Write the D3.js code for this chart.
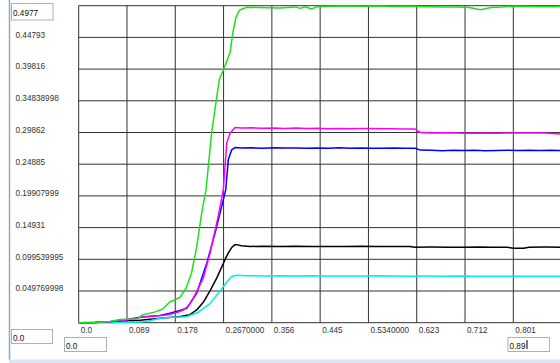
<!DOCTYPE html>
<html>
<head>
<meta charset="utf-8">
<script src="https://cdn.jsdelivr.net/npm/d3@7"></script>
<style>
    body { margin: 0; background: #fff; }
    svg { display: block; font-family: 'Liberation Sans', Arial, sans-serif; }
</style>
</head>
<body>
<svg id="graph" width="560" height="363"></svg>
<script>
// tick values and labels as the chart printed them
const xTicks = [0, 0.089, 0.178, 0.267, 0.356, 0.445, 0.534, 0.623, 0.712, 0.801];
const xTickLabels = ['0.0', '0.089', '0.178', '0.2670000', '0.356', '0.445', '0.5340000', '0.623', '0.712', '0.801'];
const yTicks = [0.04977, 0.09954, 0.14931, 0.19908, 0.24885, 0.29862, 0.34839, 0.39816, 0.44793];
const yTickLabels = ['0.049769998', '0.099539995', '0.14931', '0.19907999', '0.24885', '0.29862', '0.34838998', '0.39816', '0.44793'];
const xMin = 0, xMax = 0.89, yMin = 0, yMax = 0.4977;

// series, [x, y] pairs
const greenData = [[0,0],[0.03,0.0005],[0.058,0.002],[0.076,0.005],[0.109,0.006],[0.117,0.012],[0.141,0.017],[0.155,0.0215],
    [0.168,0.0325],[0.187,0.040],[0.198,0.0545],[0.208,0.078],[0.2175,0.119],[0.2267,0.172],[0.2346,0.2085],[0.245,0.298],
    [0.251,0.334],[0.259,0.381],[0.268,0.400],[0.279,0.424],[0.284,0.455],[0.290,0.480],[0.297,0.491],[0.310,0.4953],
    [0.33,0.4950],[0.35,0.4945],[0.37,0.4940],[0.385,0.4950],[0.40,0.4958],[0.408,0.4935],[0.418,0.4960],[0.429,0.4925],
    [0.44,0.4962],[0.46,0.4970],[0.49,0.4972],[0.52,0.4968],[0.55,0.4972],[0.58,0.4965],[0.61,0.4970],[0.64,0.4962],
    [0.67,0.4958],[0.70,0.4955],[0.72,0.4948],[0.74,0.4915],[0.76,0.4950],[0.78,0.4958],[0.80,0.4970],[0.83,0.4965],
    [0.86,0.4962],[0.89,0.4963]];
const magentaData = [[0,0],[0.03,0.0006],[0.058,0.002],[0.09,0.0045],[0.116,0.0085],[0.14,0.0105],[0.162,0.012],[0.180,0.0155],
    [0.193,0.020],[0.203,0.027],[0.211,0.038],[0.2296,0.070],[0.242,0.109],[0.257,0.1666],[0.2665,0.2085],[0.2728,0.282],
    [0.279,0.2976],[0.288,0.3065],[0.30,0.3055],[0.32,0.3060],[0.34,0.3052],[0.36,0.3055],[0.38,0.3048],[0.40,0.3055],
    [0.42,0.3050],[0.44,0.3054],[0.46,0.3046],[0.48,0.3050],[0.50,0.3044],[0.52,0.3048],[0.54,0.3050],[0.56,0.3044],
    [0.58,0.3046],[0.60,0.3041],[0.62,0.3040],[0.63,0.2985],[0.65,0.2978],[0.68,0.2982],[0.71,0.2976],[0.74,0.2980],
    [0.77,0.2975],[0.80,0.2980],[0.83,0.2978],[0.86,0.2980],[0.88,0.2968],[0.89,0.2962]];
const blueData = [[0,0],[0.03,0.0005],[0.058,0.0016],[0.09,0.005],[0.116,0.009],[0.150,0.0113],[0.168,0.0148],[0.185,0.019],
    [0.199,0.0226],[0.2175,0.0462],[0.236,0.0933],[0.2512,0.1405],[0.2665,0.1928],[0.271,0.2085],[0.2757,0.2557],
    [0.282,0.2714],[0.288,0.275],[0.30,0.2742],[0.32,0.2745],[0.34,0.2740],[0.36,0.2746],[0.38,0.2741],[0.40,0.2744],
    [0.42,0.2738],[0.44,0.2743],[0.46,0.2740],[0.48,0.2745],[0.50,0.2737],[0.52,0.2742],[0.54,0.2738],[0.56,0.2740],
    [0.58,0.2744],[0.60,0.2740],[0.62,0.2738],[0.63,0.2710],[0.65,0.2708],[0.67,0.2700],[0.69,0.2706],[0.71,0.2702],
    [0.73,0.2708],[0.75,0.2700],[0.77,0.2705],[0.79,0.2708],[0.81,0.2703],[0.83,0.2706],[0.85,0.2704],[0.87,0.2707],
    [0.89,0.2705]];
const blackData = [[0,0],[0.03,0.0005],[0.058,0.0016],[0.09,0.003],[0.113,0.004],[0.156,0.0074],[0.1775,0.009],[0.190,0.0100],
    [0.205,0.0125],[0.2175,0.020],[0.2296,0.0320],[0.242,0.0500],[0.2543,0.0700],[0.2640,0.0880],[0.2696,0.0990],
    [0.2760,0.1100],[0.2820,0.1180],[0.288,0.1225],[0.293,0.1222],[0.300,0.1208],[0.316,0.1197],[0.34,0.1200],[0.37,0.1198],
    [0.40,0.1201],[0.43,0.1196],[0.46,0.1198],[0.49,0.1195],[0.52,0.1199],[0.55,0.1196],[0.58,0.1198],[0.61,0.1197],
    [0.62,0.1185],[0.65,0.1187],[0.68,0.1184],[0.71,0.1186],[0.74,0.1190],[0.76,0.1186],[0.79,0.1185],[0.80,0.1168],
    [0.82,0.1168],[0.83,0.1186],[0.86,0.1187],[0.89,0.1186]];
const cyanData = [[0,0],[0.03,0.0002],[0.058,0.0003],[0.09,0.0008],[0.1185,0.0016],[0.135,0.004],[0.150,0.0069],[0.17,0.0085],
    [0.199,0.0094],[0.2205,0.0165],[0.242,0.030],[0.258,0.047],[0.2696,0.060],[0.2757,0.067],[0.282,0.0725],[0.291,0.0745],
    [0.31,0.0738],[0.34,0.0735],[0.37,0.0737],[0.40,0.0733],[0.43,0.0736],[0.46,0.0732],[0.49,0.0735],[0.52,0.0733],
    [0.55,0.0737],[0.58,0.0734],[0.61,0.0731],[0.64,0.0732],[0.67,0.0730],[0.70,0.0733],[0.73,0.0730],[0.76,0.0731],
    [0.79,0.0729],[0.82,0.0731],[0.85,0.0729],[0.89,0.0730]];

const series = [
    { name: 'black', color: '#000000', values: blackData },
    { name: 'cyan', color: '#00eeee', values: cyanData },
    { name: 'blue', color: '#0000ff', values: blueData },
    { name: 'magenta', color: '#ff00ff', values: magentaData },
    { name: 'green', color: '#1ee01e', values: greenData }
];

(function () {
    let svg = d3.select('#graph'),
        left = 78.7, right = 561.6, top = 5.7, bottom = 322.7;

    let x = d3.scaleLinear().domain([xMin, xMax]).range([left, right]),
        y = d3.scaleLinear().domain([yMin, yMax]).range([bottom, top]);

    svg.append('rect').attr('width', 560).attr('height', 363).attr('fill', '#fff');

    // panel borders
    svg.append('line').attr('x1', 9.5).attr('x2', 9.5).attr('y1', 0).attr('y2', 360)
        .attr('stroke', '#93a7c4').attr('stroke-width', 1.5);
    svg.append('rect').attr('x', 9).attr('y', 359.5).attr('width', 551).attr('height', 3.5).attr('fill', '#dbe6f2');

    // grid
    let grid = svg.append('g').attr('stroke', '#333').attr('stroke-width', 1);
    grid.selectAll('.vline').data(xTicks).enter().append('line')
        .attr('class', 'vline')
        .attr('x1', d => x(d)).attr('x2', d => x(d))
        .attr('y1', y(yMax)).attr('y2', y(yMin));
    grid.selectAll('.hline').data([yMin].concat(yTicks, [yMax])).enter().append('line')
        .attr('class', 'hline')
        .attr('x1', x(xMin)).attr('x2', 560)
        .attr('y1', d => y(d)).attr('y2', d => y(d));

    // lines
    let line = d3.line()
        .x(d => x(d[0]))
        .y(d => y(d[1]));

    svg.selectAll('.series')
        .data(series)
        .enter().append('path')
        .attr('class', 'series')
        .attr('d', d => line(d.values))
        .style('fill', 'none')
        .style('stroke', d => d.color)
        .style('stroke-width', '1.5px')
        .style('stroke-linejoin', 'round');

    // tick labels
    svg.selectAll('.xlabel').data(xTicks).enter().append('text')
        .attr('class', 'xlabel')
        .attr('x', d => x(d) + 2)
        .attr('y', 333)
        .attr('fill', '#333')
        .style('font-size', '8.2px')
        .text((d, i) => xTickLabels[i]);

    svg.selectAll('.ylabel').data(yTicks).enter().append('text')
        .attr('class', 'ylabel')
        .attr('x', 15.5)
        .attr('y', d => y(d) + 0.3)
        .attr('fill', '#333')
        .style('font-size', '8.2px')
        .text((d, i) => yTickLabels[i]);

    // input boxes showing the range limits
    let boxes = [
        { x: 11.5, y: 3.5, w: 41.5, h: 16.5, text: String(yMax), base: 15.5 },
        { x: 11.5, y: 329.5, w: 41, h: 14, text: '0.0', base: 340.5 },
        { x: 64.5, y: 337.5, w: 42, h: 14, text: '0.0', base: 348.5 },
        { x: 508, y: 337.5, w: 41.5, h: 14, text: String(xMax), base: 348.5, caret: true }
    ];
    let box = svg.selectAll('.box').data(boxes).enter().append('g').attr('class', 'box');
    box.append('rect')
        .attr('x', d => d.x).attr('y', d => d.y)
        .attr('width', d => d.w).attr('height', d => d.h)
        .attr('fill', '#fff').attr('stroke', '#a3b2c6').attr('stroke-width', 1);
    box.append('text')
        .attr('x', d => d.x + 1.5)
        .attr('y', d => d.base)
        .attr('fill', '#111')
        .style('font-size', '8.2px')
        .text(d => d.text);
    box.filter(d => d.caret).append('line')
        .attr('x1', 527).attr('x2', 527)
        .attr('y1', d => d.y + 2.5).attr('y2', d => d.y + d.h - 2.5)
        .attr('stroke', '#000');
}());
</script>
</body>
</html>
